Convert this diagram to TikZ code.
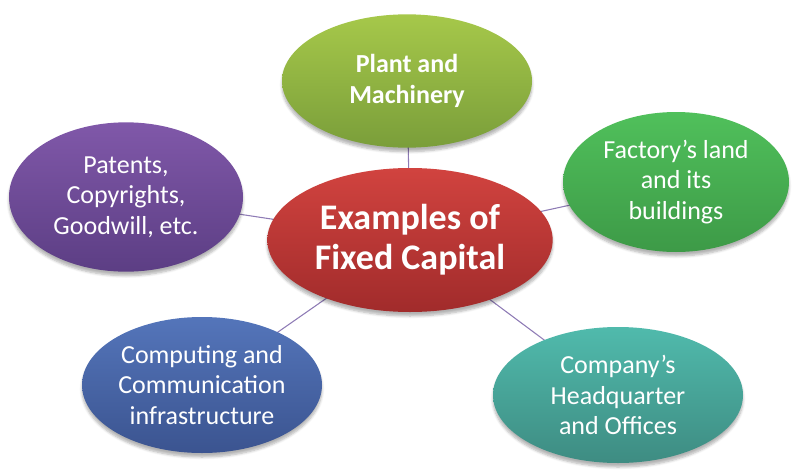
\documentclass[tikz,border=0pt]{standalone}
\usepackage{fontspec}
\setmainfont{Carlito}
\usetikzlibrary{shapes.geometric,shadows.blur}
\definecolor{linkc}{HTML}{8E7BB5}
\definecolor{redT}{HTML}{D1433F}\definecolor{redB}{HTML}{A12B2B}
\definecolor{lgT}{HTML}{A6C84A}\definecolor{lgB}{HTML}{7A9E3A}
\definecolor{gT}{HTML}{50C05B}\definecolor{gB}{HTML}{3D9A47}
\definecolor{pT}{HTML}{8058A9}\definecolor{pB}{HTML}{5C3E84}
\definecolor{bT}{HTML}{5475BA}\definecolor{bB}{HTML}{3B5490}
\definecolor{tT}{HTML}{50BAAC}\definecolor{tB}{HTML}{3E8C82}
\tikzset{
  bubble/.style={ellipse, inner sep=0pt, text=white, align=center,
    font=\fontsize{19.5}{23}\selectfont,
    blur shadow={shadow xshift=0pt, shadow yshift=-3pt, shadow opacity=30, shadow blur steps=6}},
  link/.style={draw=linkc, line width=0.8pt}
}
\begin{document}
\begin{tikzpicture}[x=0.75pt,y=-0.75pt]
\useasboundingbox (0,0) rectangle (797,475);
% connectors behind
\coordinate (cc) at (410,240);
\coordinate (ct) at (407,81);
\coordinate (cr) at (676,182);
\coordinate (cl) at (126,197);
\coordinate (cbl) at (202,385);
\coordinate (cbr) at (618,395);
\draw[link] (cc) -- (ct);
\draw[link] (cc) -- (cr);
\draw[link] (cc) -- (cl);
\draw[link] (cc) -- (cbl);
\draw[link] (cc) -- (cbr);
% outer bubbles
\node[bubble, minimum width=187.5pt, minimum height=100pt, top color=lgT, bottom color=lgB,
  font=\bfseries\fontsize{19.5}{23}\selectfont] (top) at (ct) {Plant and\\Machinery};
\node[bubble, minimum width=169.5pt, minimum height=105pt, top color=gT, bottom color=gB] (right) at (cr) {Factory’s land\\and its\\buildings};
\node[bubble, minimum width=175.5pt, minimum height=112pt, top color=pT, bottom color=pB] (left) at (cl) {Patents,\\Copyrights,\\Goodwill, etc.};
\node[bubble, minimum width=180pt, minimum height=102pt, top color=bT, bottom color=bB] (bl) at (cbl) {Computing and\\Communication\\infrastructure};
\node[bubble, minimum width=187.5pt, minimum height=102pt, top color=tT, bottom color=tB] (br) at (cbr) {Company’s\\Headquarter\\and Offices};
% centre
\node[bubble, minimum width=214pt, minimum height=108pt, top color=redT, bottom color=redB,
  font=\bfseries\fontsize{27}{30}\selectfont] (centre) at (cc) {Examples of\\Fixed Capital};
\end{tikzpicture}
\end{document}
